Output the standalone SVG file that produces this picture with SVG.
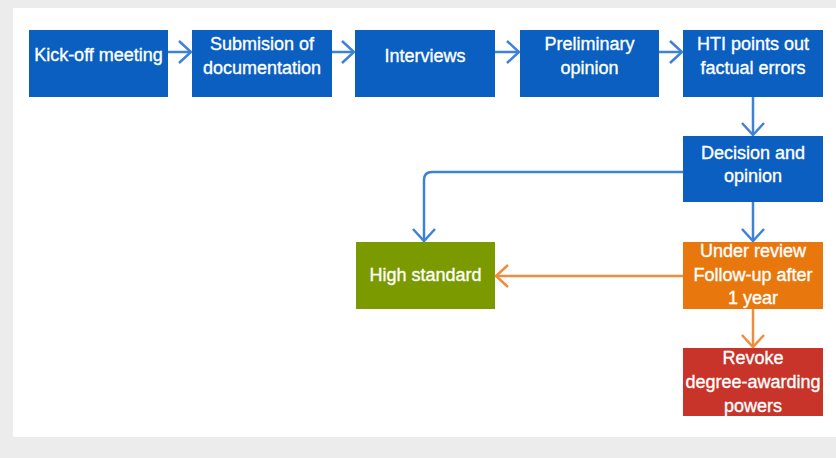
<svg xmlns="http://www.w3.org/2000/svg" width="836" height="458" viewBox="0 0 836 458">
<defs>
<style>
.t{font-family:"Liberation Sans",Arial,sans-serif;font-size:18px;fill:#ffffff;stroke:#ffffff;stroke-width:0.35;text-anchor:middle}
.blue{fill:#0a5fc0}
.green{fill:#7a9a00}
.orange{fill:#e8780e}
.red{fill:#c8342a}
.cb{fill:none;stroke:#3d82d6;stroke-width:2.5}
.co{fill:none;stroke:#f08c3c;stroke-width:2.5}
</style>
<marker id="ab" viewBox="0 0 14 24" refX="13" refY="12" markerWidth="14" markerHeight="24" markerUnits="userSpaceOnUse" orient="auto">
<path d="M1,1 L13,12 L1,23" fill="none" stroke="#3d82d6" stroke-width="2.5"/>
</marker>
<marker id="ao" viewBox="0 0 14 24" refX="13" refY="12" markerWidth="14" markerHeight="24" markerUnits="userSpaceOnUse" orient="auto">
<path d="M1,1 L13,12 L1,23" fill="none" stroke="#f08c3c" stroke-width="2.5"/>
</marker>
</defs>
<rect x="0" y="0" width="836" height="458" fill="#ececec"/>
<rect x="13" y="8" width="823" height="429" fill="#ffffff"/>
<g id="connectors">
<path class="cb" d="M168,52 H191" marker-end="url(#ab)"/>
<path class="cb" d="M332,52 H354" marker-end="url(#ab)"/>
<path class="cb" d="M495,52 H519" marker-end="url(#ab)"/>
<path class="cb" d="M659,52 H682" marker-end="url(#ab)"/>
<path class="cb" d="M753,97 V135" marker-end="url(#ab)"/>
<path class="cb" d="M683,172 H432 Q424,172 424,180 V241" marker-end="url(#ab)"/>
<path class="cb" d="M753,202 V241" marker-end="url(#ab)"/>
<path class="co" d="M683,276 H496" marker-end="url(#ao)"/>
<path class="co" d="M753,309 V347" marker-end="url(#ao)"/>
</g>
<g id="kickoff"><rect class="blue" x="29" y="30" width="139" height="67"/><text class="t" x="98.5" y="61">Kick-off meeting</text></g>
<g id="submission"><rect class="blue" x="192" y="30" width="140" height="67"/><text class="t" x="262" y="50">Submision of</text><text class="t" x="262" y="74">documentation</text></g>
<g id="interviews"><rect class="blue" x="355" y="30" width="140" height="67"/><text class="t" x="425" y="62">Interviews</text></g>
<g id="preliminary"><rect class="blue" x="520" y="30" width="139" height="67"/><text class="t" x="589.5" y="50">Preliminary</text><text class="t" x="589.5" y="74">opinion</text></g>
<g id="hti"><rect class="blue" x="683" y="30" width="140" height="67"/><text class="t" x="753" y="50">HTI points out</text><text class="t" x="753" y="74">factual errors</text></g>
<g id="decision"><rect class="blue" x="683" y="136" width="140" height="66"/><text class="t" x="753" y="159">Decision and</text><text class="t" x="753" y="182">opinion</text></g>
<g id="highstandard"><rect class="green" x="356" y="242" width="139" height="67"/><text class="t" x="425.5" y="281">High standard</text></g>
<g id="underreview"><rect class="orange" x="683" y="242" width="140" height="67"/><text class="t" x="753" y="257">Under review</text><text class="t" x="753" y="281">Follow-up after</text><text class="t" x="753" y="304">1 year</text></g>
<g id="revoke"><rect class="red" x="683" y="348" width="140" height="68"/><text class="t" x="753" y="364">Revoke</text><text class="t" x="753" y="388">degree-awarding</text><text class="t" x="753" y="412">powers</text></g>
</svg>
